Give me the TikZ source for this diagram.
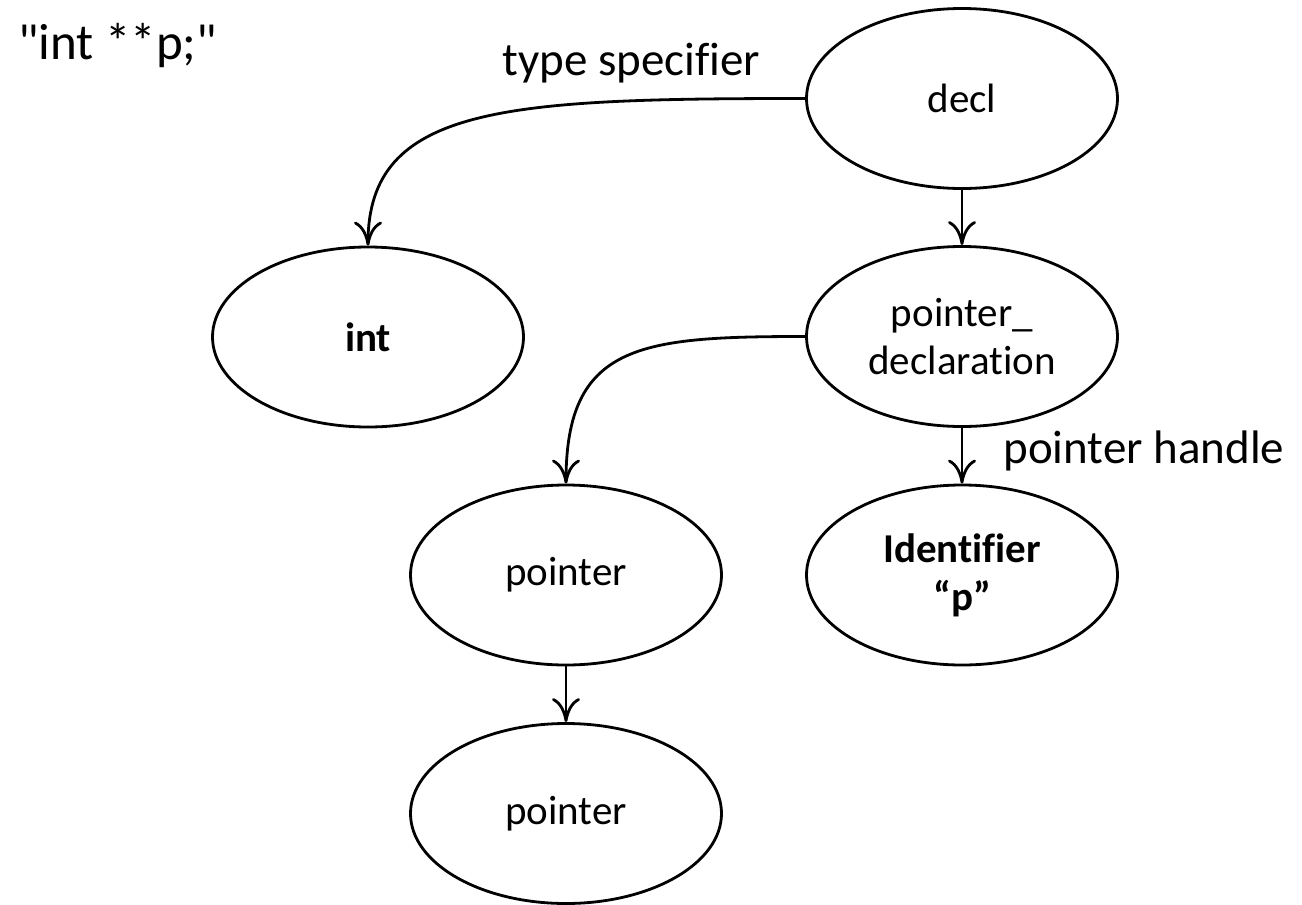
\documentclass[tikz,border=0pt]{standalone}
\usepackage{fontspec}
\setmainfont{Carlito}[Ligatures={TeXOff,CommonOff}]
\usepackage{tikz}
\usetikzlibrary{arrows.meta,shapes.geometric,positioning}
\tikzset{
    >={Computer Modern Rightarrow[length=12pt,width=14pt,line width=1.4pt]},
    knoop/.style={
           ellipse,
           draw=black, line width=1.4pt,
           minimum width=155.5pt,
           minimum height=90pt,
           inner sep=0pt,
           align=center,
           font=\fontsize{20.5pt}{24pt}\selectfont},
    tekst/.style={
           inner sep=0pt,
           font=\fontsize{23.5pt}{28pt}\selectfont},
    pil/.style={
           ->,
           line width=1.4pt}
}
\begin{document}
\begin{tikzpicture}[x=0.5pt,y=-0.5pt]
          \useasboundingbox (0,0) rectangle (1302,905);
          \def \cx {962}
          \def \lx {566}
          \node[knoop] (decl) at (\cx,98.5) {decl};
          \node[knoop] (int) at (368,337) {\textbf{int}};
          \node[knoop] (pdecl) at (\cx,336.5) {pointer\_\\declaration};
          \node[knoop] (ptr1) at (\lx,575) {pointer};
          \node[knoop] (ident) at (\cx,575) {\textbf{Identifier}\\\textbf{“p”}};
          \node[knoop] (ptr2) at (\lx,813.5) {pointer};
          \node[tekst, anchor=base west, font=\fontsize{25.5pt}{30pt}\selectfont] (code) at (18,59) {"int **p;"};
          \node[tekst, anchor=base west] (tspec) at (502,75) {type specifier};
          \node[tekst, anchor=base west] (phandle) at (1003,463) {pointer handle};
          \draw[pil] (decl.west) .. controls +(-300,0) and +(0,-140) .. (int.north);
          \draw[pil] (decl) -- (pdecl);
          \draw[pil] (pdecl.west) .. controls +(-165,0) and +(0,-140) .. (ptr1.north);
          \draw[pil] (pdecl) -- (ident);
          \draw[pil] (ptr1) -- (ptr2);
\end{tikzpicture}
\end{document}
